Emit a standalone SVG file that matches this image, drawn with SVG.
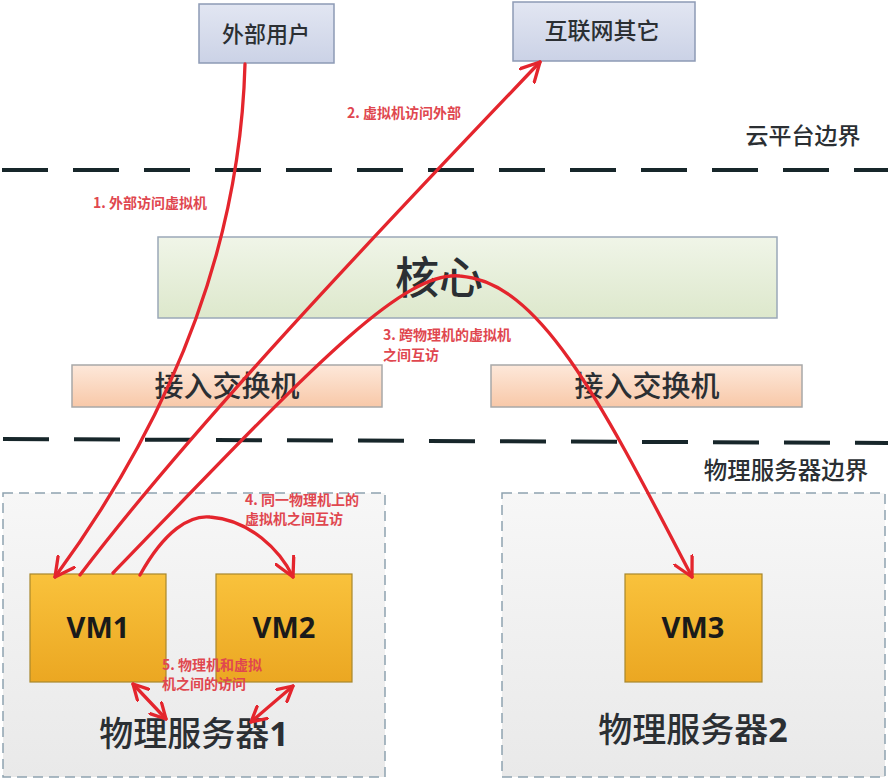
<svg xmlns="http://www.w3.org/2000/svg" width="888" height="784" viewBox="0 0 888 784">
<defs>
<style>
.cjk{font-family:"Noto Sans CJK SC","Noto Sans",sans-serif;font-weight:500;fill:#2b2f33}
.lbl{font-family:"Noto Sans CJK SC","Noto Sans",sans-serif;font-size:14px;font-weight:700;fill:#e0474f}
.vm{font-family:"Open Sans","Liberation Sans",sans-serif;font-size:29px;font-weight:700;fill:#1a1a1a}
.bound{stroke:#17262a;stroke-width:4;stroke-dasharray:46 25;fill:none}
.red{fill:none;stroke:#e4252d;stroke-width:3.3;stroke-linecap:round}
</style>
<linearGradient id="gTop" x1="0" y1="0" x2="0" y2="1"><stop offset="0" stop-color="#e2e6f2"/><stop offset="1" stop-color="#cbd2e6"/></linearGradient>
<linearGradient id="gCore" x1="0" y1="0" x2="0" y2="1"><stop offset="0" stop-color="#f0f5e8"/><stop offset="1" stop-color="#dde8cc"/></linearGradient>
<linearGradient id="gSw" x1="0" y1="0" x2="0" y2="1"><stop offset="0" stop-color="#fde8da"/><stop offset="1" stop-color="#f8c8a8"/></linearGradient>
<linearGradient id="gVm" x1="0" y1="0" x2="0" y2="1"><stop offset="0" stop-color="#f9c23c"/><stop offset="1" stop-color="#eba722"/></linearGradient>
<linearGradient id="gSrv" x1="0" y1="0" x2="0" y2="1"><stop offset="0" stop-color="#f7f7f7"/><stop offset="1" stop-color="#e9e9e9"/></linearGradient>
<marker id="ah" viewBox="0 0 22 22" refX="20" refY="11" markerWidth="22" markerHeight="22" markerUnits="userSpaceOnUse" orient="auto-start-reverse"><path d="M1,1 L20,11 L1,21" fill="none" stroke="#e4252d" stroke-width="3.3" stroke-linecap="round" stroke-linejoin="round"/></marker>
<marker id="ahs" viewBox="0 0 18 18" refX="16" refY="9" markerWidth="18" markerHeight="18" markerUnits="userSpaceOnUse" orient="auto-start-reverse"><path d="M1,1 L16,9 L1,17" fill="none" stroke="#e4252d" stroke-width="3.3" stroke-linecap="round" stroke-linejoin="round"/></marker>
</defs>
<rect width="888" height="784" fill="#ffffff"/>

<g id="boundaries">
<line class="bound" x1="2" y1="170" x2="888" y2="170"/>
<line class="bound" x1="3" y1="439" x2="888" y2="443"/>
<text class="cjk" x="803" y="144" font-size="23" text-anchor="middle">云平台边界</text>
<text class="cjk" x="786" y="479" font-size="23.5" text-anchor="middle">物理服务器边界</text>
</g>

<g id="ext-user">
<rect x="199" y="4" width="135" height="59" fill="url(#gTop)" stroke="#8d9ab5" stroke-width="1.5"/>
<text class="cjk" x="266" y="42" font-size="22" text-anchor="middle">外部用户</text>
</g>
<g id="internet">
<rect x="513" y="2" width="182" height="59" fill="url(#gTop)" stroke="#8d9ab5" stroke-width="1.5"/>
<text class="cjk" x="602" y="39" font-size="23" text-anchor="middle">互联网其它</text>
</g>
<g id="core">
<rect x="158" y="237" width="619" height="81" fill="url(#gCore)" stroke="#9aa8b8" stroke-width="1.5"/>
<text class="cjk" x="439" y="294" font-size="44" text-anchor="middle">核心</text>
</g>
<g id="switch1">
<rect x="72" y="365" width="310" height="42" fill="url(#gSw)" stroke="#a8a8a8" stroke-width="1.5"/>
<text class="cjk" x="227" y="397" font-size="29" text-anchor="middle">接入交换机</text>
</g>
<g id="switch2">
<rect x="491" y="365" width="311" height="42" fill="url(#gSw)" stroke="#a8a8a8" stroke-width="1.5"/>
<text class="cjk" x="647" y="397" font-size="29" text-anchor="middle">接入交换机</text>
</g>
<g id="server1">
<rect x="3" y="493" width="382" height="284" fill="url(#gSrv)" stroke="#8ea2b0" stroke-width="1.5" stroke-dasharray="10 6"/>
<text class="cjk" x="194" y="746" font-size="34" text-anchor="middle">物理服务器<tspan font-weight="700" font-family="Open Sans, sans-serif">1</tspan></text>
</g>
<g id="server2">
<rect x="502" y="493" width="383" height="284" fill="url(#gSrv)" stroke="#8ea2b0" stroke-width="1.5" stroke-dasharray="10 6"/>
<text class="cjk" x="693" y="742" font-size="34" text-anchor="middle">物理服务器<tspan font-weight="700" font-family="Open Sans, sans-serif">2</tspan></text>
</g>
<g id="vm1">
<rect x="30" y="574" width="136" height="108" fill="url(#gVm)" stroke="#a8872c" stroke-width="1.2"/>
<text class="vm" x="98" y="638" text-anchor="middle">VM1</text>
</g>
<g id="vm2">
<rect x="216" y="574" width="136" height="108" fill="url(#gVm)" stroke="#a8872c" stroke-width="1.2"/>
<text class="vm" x="284" y="638" text-anchor="middle">VM2</text>
</g>
<g id="vm3">
<rect x="625" y="574" width="137" height="108" fill="url(#gVm)" stroke="#a8872c" stroke-width="1.2"/>
<text class="vm" x="693" y="638" text-anchor="middle">VM3</text>
</g>

<g id="connectors">
<path class="red" d="M245,64 C240,250 170,420 55,577" marker-end="url(#ah)"/>
<path class="red" d="M80,575 C190,430 370,240 540,62" marker-end="url(#ah)"/>
<path class="red" d="M113,573 C300,380 400,270 460,276 C540,282 600,400 692,577" marker-end="url(#ah)"/>
<path class="red" d="M140,575 C165,530 190,515 210,517 C250,520 280,550 293,577" marker-end="url(#ah)"/>
<path class="red" d="M133,684 L166,719" marker-start="url(#ahs)" marker-end="url(#ahs)"/>
<path class="red" d="M293,686 L251,722" marker-start="url(#ahs)" marker-end="url(#ahs)"/>
</g>

<g id="labels">
<text class="lbl" x="93" y="208">1. 外部访问虚拟机</text>
<text class="lbl" x="347" y="118">2. 虚拟机访问外部</text>
<text class="lbl" x="383" y="340">3. 跨物理机的虚拟机<tspan x="383" dy="20">之间互访</tspan></text>
<text class="lbl" x="245" y="505">4. 同一物理机上的<tspan x="245" dy="19">虚拟机之间互访</tspan></text>
<text class="lbl" x="162" y="670" font-size="13.5">5. 物理机和虚拟<tspan x="162" dy="19">机之间的访问</tspan></text>
</g>
</svg>
